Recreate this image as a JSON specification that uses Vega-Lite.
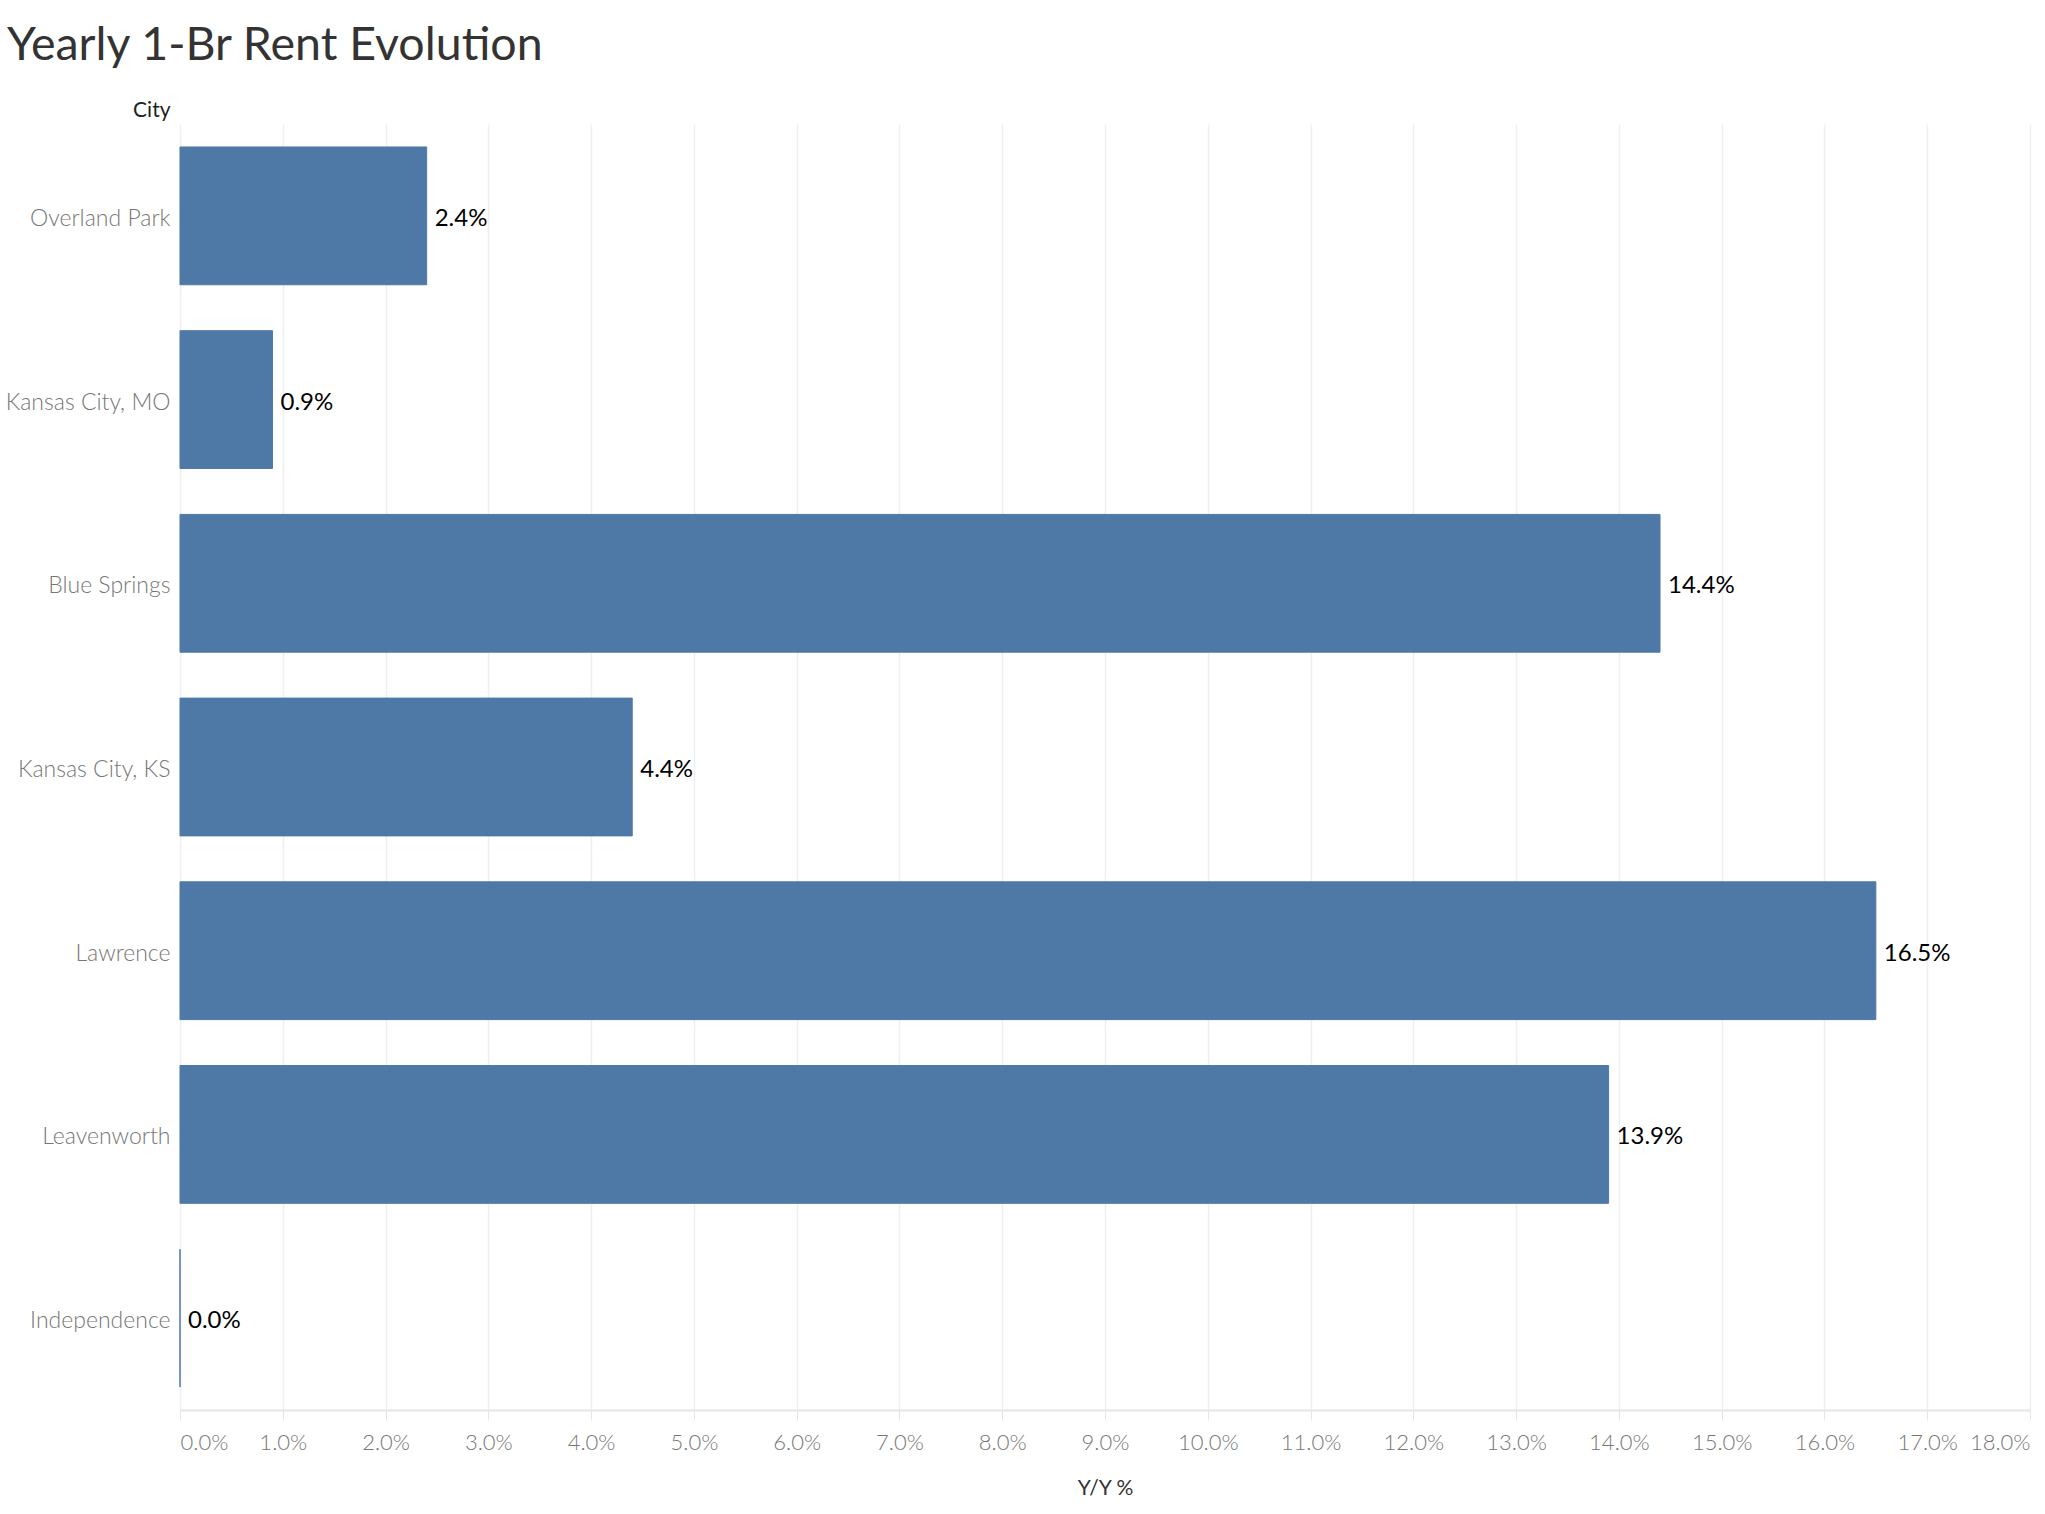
{
  "$schema": "https://vega.github.io/schema/vega-lite/v6.json",
  "width": 1850,
  "height": 1286,
  "autosize": {"type": "none"},
  "padding": {"left": 180, "top": 124, "right": 15, "bottom": 104},
  "background": "white",
  "config": {"font": "Lato", "view": {"stroke": null}},
  "title": {
    "text": "Yearly 1-Br Rent Evolution",
    "anchor": "start",
    "frame": "group",
    "dx": -173,
    "offset": 30,
    "fontSize": 46.5,
    "font": "Lato",
    "fontWeight": "normal",
    "color": "#333333"
  },
  "data": {
    "values": [
      {"City": "Overland Park", "yoy": 0.024},
      {"City": "Kansas City, MO", "yoy": 0.009},
      {"City": "Blue Springs", "yoy": 0.144},
      {"City": "Kansas City, KS", "yoy": 0.044},
      {"City": "Lawrence", "yoy": 0.165},
      {"City": "Leavenworth", "yoy": 0.139},
      {"City": "Independence", "yoy": 0.0}
    ]
  },
  "encoding": {
    "y": {
      "field": "City",
      "type": "nominal",
      "sort": null,
      "scale": {"paddingInner": 0.25, "paddingOuter": 0.125},
      "axis": {
        "title": "City",
        "titleAngle": 0,
        "titleAlign": "right",
        "titleBaseline": "middle",
        "titleX": -10,
        "titleY": -14,
        "titleFontSize": 21,
        "titleFontWeight": "normal",
        "titleColor": "#222222",
        "labelFontSize": 23,
        "labelFontWeight": 300,
        "labelColor": "#777777",
        "labelPadding": 10,
        "labelOffset": 3,
        "ticks": false,
        "domain": false
      }
    },
    "x": {
      "field": "yoy",
      "type": "quantitative",
      "scale": {"domain": [0, 0.18], "nice": false},
      "axis": {
        "title": "Y/Y %",
        "format": ".1%",
        "values": [0, 0.01, 0.02, 0.03, 0.04, 0.05, 0.06, 0.07, 0.08, 0.09, 0.1, 0.11, 0.12, 0.13, 0.14, 0.15, 0.16, 0.17, 0.18],
        "labelFlush": true,
        "grid": true,
        "gridColor": "#efefef",
        "gridWidth": 1.5,
        "domainColor": "#e6e6e6",
        "domainWidth": 2,
        "tickColor": "#e6e6e6",
        "tickSize": 10,
        "labelPadding": 12,
        "labelFontSize": 22,
        "labelFontWeight": 300,
        "labelColor": "#777777",
        "titleFontSize": 21,
        "titleFontWeight": "normal",
        "titleColor": "#333333",
        "titlePadding": 24
      }
    }
  },
  "layer": [
    {
      "mark": {"type": "bar", "color": "#4e79a7", "stroke": "#4e79a7", "strokeWidth": 1}
    },
    {
      "mark": {"type": "text", "align": "left", "baseline": "middle", "dx": 8, "dy": 3, "fontSize": 24, "color": "#000000"},
      "encoding": {"text": {"field": "yoy", "type": "quantitative", "format": ".1%"}}
    }
  ]
}
